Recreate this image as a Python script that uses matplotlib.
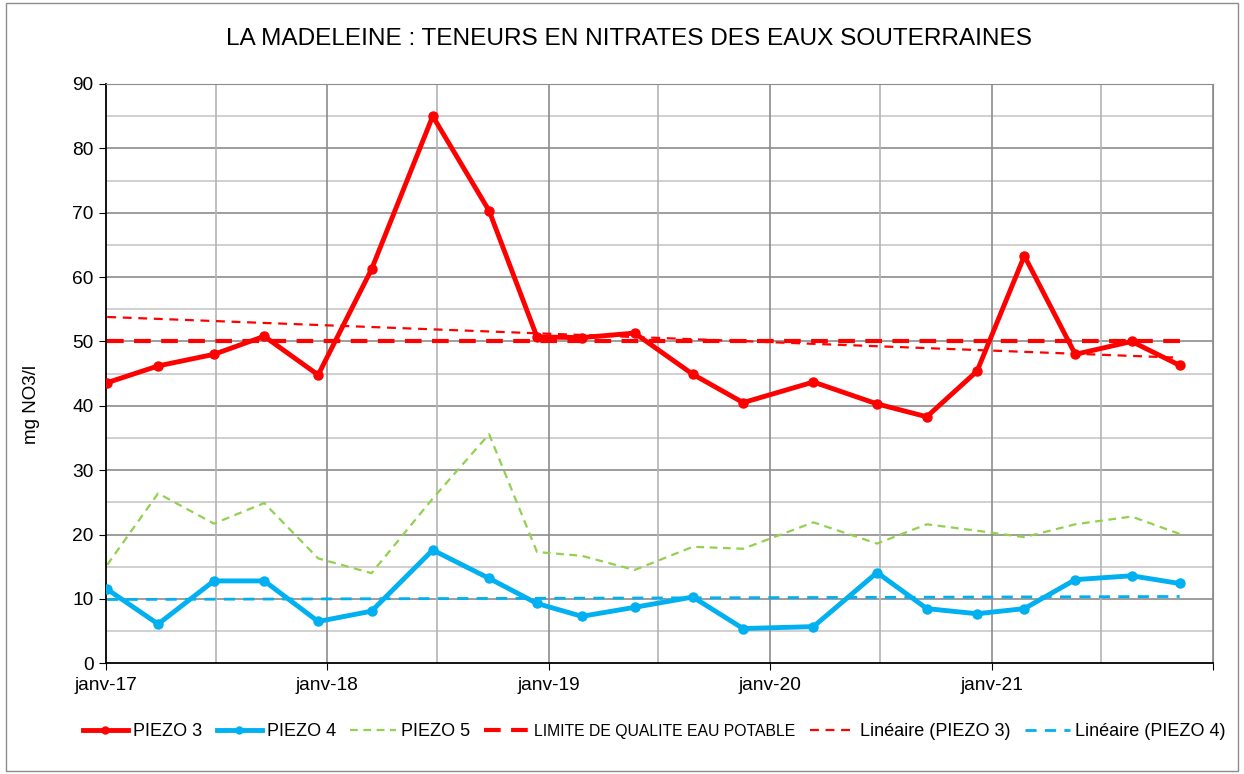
import matplotlib
matplotlib.use("Agg")
import matplotlib.pyplot as plt
import matplotlib.dates as mdates
import numpy as np
from datetime import datetime
from matplotlib.patches import Rectangle
from matplotlib.lines import Line2D

plt.rcParams['font.family'] = ['Liberation Sans', 'DejaVu Sans']

dates = ["2017-01-03", "2017-03-28", "2017-06-28", "2017-09-19", "2017-12-17",
         "2018-03-15", "2018-06-24", "2018-09-25", "2018-12-13", "2019-02-25",
         "2019-05-23", "2019-08-27", "2019-11-18", "2020-03-13", "2020-06-26",
         "2020-09-16", "2020-12-08", "2021-02-24", "2021-05-19", "2021-08-20",
         "2021-11-07"]
piezo3 = [43.6, 46.2, 48.0, 50.8, 44.8, 61.2, 85.0, 70.3, 50.7, 50.6, 51.3,
          44.9, 40.5, 43.7, 40.3, 38.3, 45.4, 63.3, 48.0, 50.0, 46.3]
piezo4 = [11.5, 6.1, 12.8, 12.8, 6.5, 8.1, 17.6, 13.2, 9.3, 7.3, 8.7,
          10.3, 5.4, 5.7, 14.1, 8.5, 7.7, 8.5, 13.0, 13.6, 12.4]
piezo5 = [15.3, 26.4, 21.7, 24.9, 16.3, 14.0, 25.6, 35.6, 17.3, 16.7, 14.5,
          18.1, 17.8, 21.9, 18.6, 21.6, 20.6, 19.6, 21.6, 22.8, 20.1]
limite = 50
year_ticks = ["2017-01-01", "2018-01-01", "2019-01-01", "2020-01-01", "2021-01-01", "2022-01-01"]
year_labels = ["janv-17", "janv-18", "janv-19", "janv-20", "janv-21", ""]
half_ticks = ["2017-07-01", "2018-07-01", "2019-07-01", "2020-07-01", "2021-07-01"]
title = "LA MADELEINE : TENEURS EN NITRATES DES EAUX SOUTERRAINES"
ylabel = "mg NO3/l"

x = mdates.date2num([datetime.strptime(d, "%Y-%m-%d") for d in dates])
xt = mdates.date2num([datetime.strptime(d, "%Y-%m-%d") for d in year_ticks])
xh = mdates.date2num([datetime.strptime(d, "%Y-%m-%d") for d in half_ticks])

RED = "#FF0000"
BLUE = "#00B0F0"
GREEN = "#92D050"

fig = plt.figure(figsize=(12.44, 7.74), dpi=100)
fig.patches.append(Rectangle((0.005, 0.004), 0.99, 0.992, transform=fig.transFigure,
                             fill=False, edgecolor="#8c8c8c", lw=1))
ax = fig.add_axes([0.0852, 0.143, 0.8898, 0.7485])

# grid
for v in range(5, 90, 10):
    ax.axhline(v, color="#c8c8c8", lw=1.2, zorder=0)
for v in range(10, 91, 10):
    ax.axhline(v, color="#8c8c8c", lw=1.2, zorder=0)
for v in xh:
    ax.axvline(v, color="#b4b4b4", lw=1.2, zorder=0)
for v in xt[1:]:
    ax.axvline(v, color="#8c8c8c", lw=1.2, zorder=0)

# trends
c3 = np.polyfit(x, piezo3, 1)
c4 = np.polyfit(x, piezo4, 1)
xe = np.array([x[0], x[-1]])

ax.plot(x, piezo5, color=GREEN, lw=1.6, ls=(0, (3.5, 2.5)), zorder=2)
ax.plot(xe, [limite, limite], color=RED, lw=3, ls=(0, (4, 2.5)), zorder=3)
ax.plot(xe, np.polyval(c3, xe), color=RED, lw=1.6, ls=(0, (4, 3)), zorder=3)
ax.plot(xe, np.polyval(c4, xe), color=BLUE, lw=2, ls=(0, (4, 3)), zorder=3)
ax.plot(x, piezo4, color=BLUE, lw=3.5, marker="o", ms=6.5, zorder=4)
ax.plot(x, piezo3, color=RED, lw=3.5, marker="o", ms=6.5, zorder=5)

ax.set_xlim(xt[0], xt[-1])
ax.set_ylim(0, 90)
ax.set_yticks(range(0, 91, 10))
ax.set_xticks(xt)
ax.set_xticklabels(year_labels)
ax.tick_params(axis="both", labelsize=13.8, direction="out", length=5, color="black")
ax.tick_params(axis="x", pad=5)
ax.tick_params(axis="y", pad=4)
for s in ["top", "right"]:
    ax.spines[s].set_color("#8c8c8c")
for s in ["left", "bottom"]:
    ax.spines[s].set_color("black")
    ax.spines[s].set_linewidth(1.3)

ax.set_ylabel(ylabel, fontsize=13.5)
ax.yaxis.set_label_coords(-0.0596, 0.4476)
fig.text(0.5055, 0.949, title, ha="center", va="center", fontsize=17.6)

handles = [
    Line2D([], [], color=RED, lw=3.5, marker="o", ms=5),
    Line2D([], [], color=BLUE, lw=3.5, marker="o", ms=5),
    Line2D([], [], color=GREEN, lw=1.6, ls=(0, (3.5, 2.5))),
    Line2D([], [], color=RED, lw=3, ls=(0, (4, 2.5))),
    Line2D([], [], color=RED, lw=1.6, ls=(0, (4, 3))),
    Line2D([], [], color=BLUE, lw=2, ls=(0, (4, 3))),
]
labels = ["PIEZO 3", "PIEZO 4", "PIEZO 5", "LIMITE DE QUALITE EAU POTABLE",
          "Linéaire (PIEZO 3)", "Linéaire (PIEZO 4)"]
leg = fig.legend(handles, labels, loc="center", bbox_to_anchor=(0.526, 0.055), ncol=6,
                 frameon=False, fontsize=13, handlelength=2.5, handletextpad=0.28,
                 columnspacing=0.8)
leg.get_texts()[3].set_fontsize(11.3)

fig.savefig("out.png", dpi=100)
